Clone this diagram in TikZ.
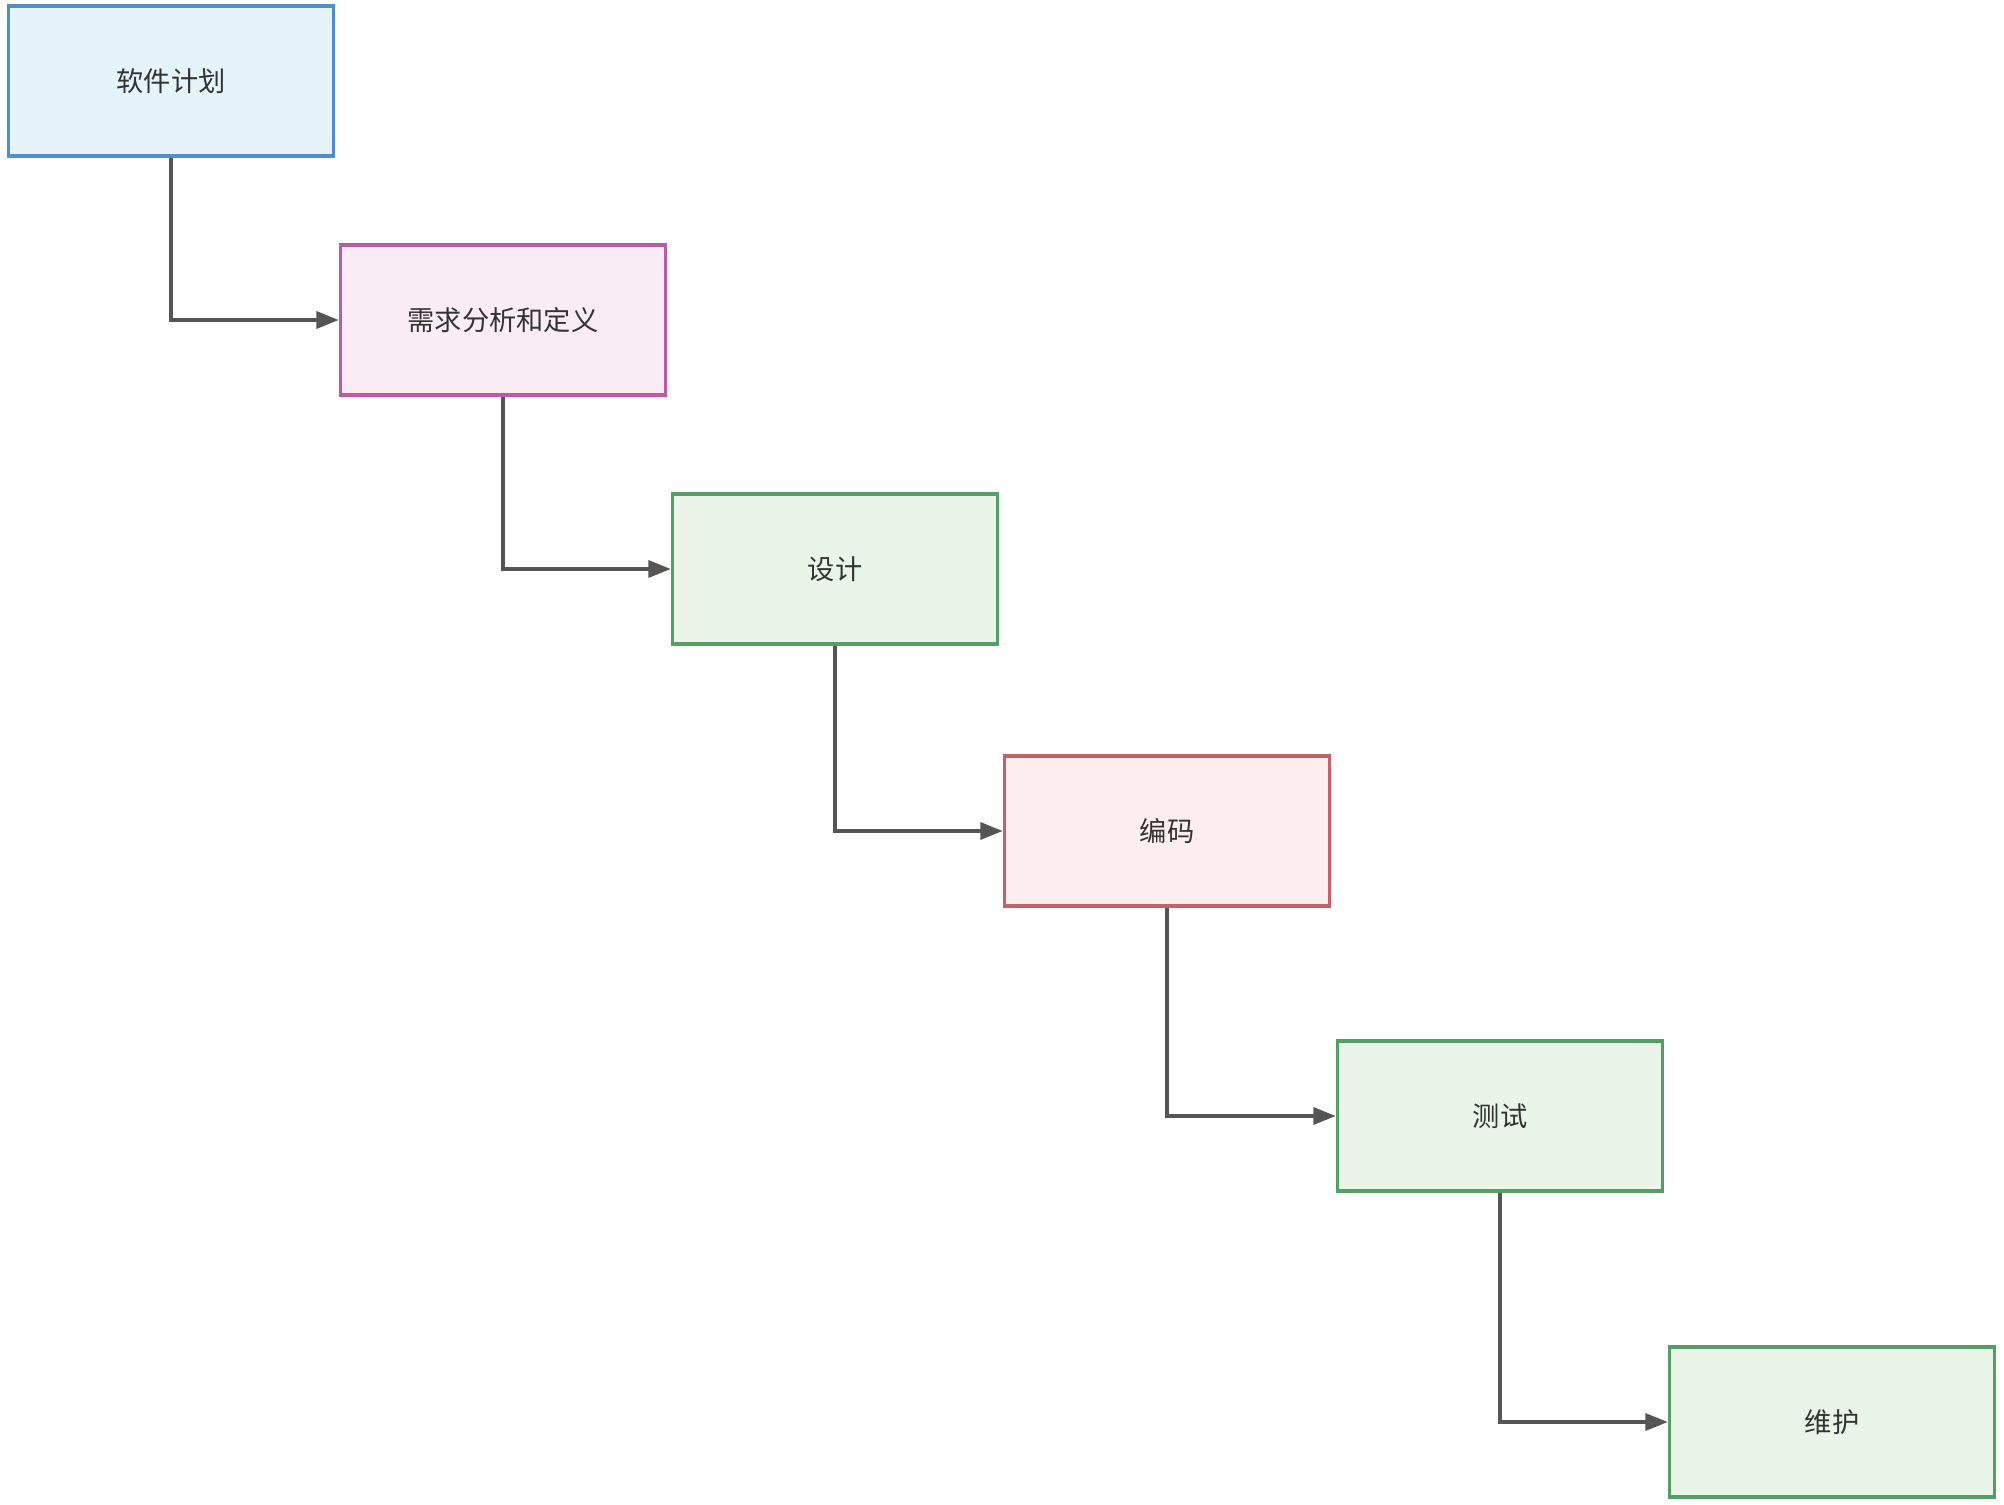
\documentclass[tikz,border=0pt]{standalone}
\usepackage{fontspec}
\usepackage{tikz}
\usetikzlibrary{arrows.meta}
\newfontfamily\cjk{Noto Sans CJK SC}
\definecolor{bluefill}{HTML}{E5F4FB}
\definecolor{bluedraw}{HTML}{4F8FC7}
\definecolor{pinkfill}{HTML}{F9ECF5}
\definecolor{pinkdraw}{HTML}{B85CA8}
\definecolor{greenfill}{HTML}{E8F5E8}
\definecolor{greendraw}{HTML}{559E65}
\definecolor{redfill}{HTML}{FCEEEE}
\definecolor{reddraw}{HTML}{C0646A}
\definecolor{linegray}{HTML}{555555}
\definecolor{textgray}{HTML}{333333}

\begin{document}
\begin{tikzpicture}[x=0.02cm, y=-0.02cm,
		box_style/.style={rectangle, draw, line width=2pt, minimum width=6.5cm, minimum height=3.0cm, inner sep=0pt, text=textgray, font=\cjk\fontsize{15.5}{18}\selectfont},
		edge_style/.style={draw=linegray, line width=2pt, -{Triangle[length=0.45cm, width=0.34cm]}}]

		\useasboundingbox (0,0) rectangle (2004,1504);

		\node[box_style, draw=bluedraw, fill=bluefill] (plan) at (171,81) {软件计划};
		\node[box_style, draw=pinkdraw, fill=pinkfill] (req) at (503,320) {需求分析和定义};
		\node[box_style, draw=greendraw, fill=greenfill] (design) at (835,569) {设计};
		\node[box_style, draw=reddraw, fill=redfill] (code) at (1167,831) {编码};
		\node[box_style, draw=greendraw, fill=greenfill] (test) at (1500,1116) {测试};
		\node[box_style, draw=greendraw, fill=greenfill] (maint) at (1832,1422) {维护};

		\draw[edge_style] (plan) |- (req);
		\draw[edge_style] (req) |- (design);
		\draw[edge_style] (design) |- (code);
		\draw[edge_style] (code) |- (test);
		\draw[edge_style] (test) |- (maint);

		\end{tikzpicture}
\end{document}
